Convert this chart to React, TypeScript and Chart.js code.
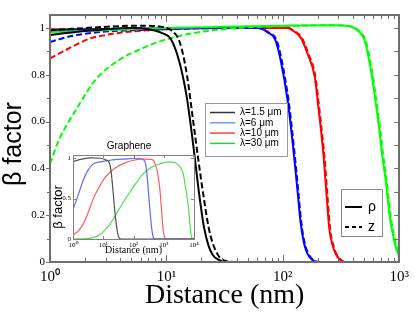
import React, { useEffect, useRef } from 'react';
import { Chart, registerables } from 'chart.js';

Chart.register(...registerables);

const SERIF = '"Liberation Serif", "Times New Roman", serif';
const SANS = '"Liberation Sans", Arial, sans-serif';

// ---------- main chart data (distance in nm, beta factor) ----------
const distBlackRho = [1, 1.8, 3, 5, 7, 9, 11, 13, 15, 17, 19, 21, 23, 25, 28, 32, 40, 1000];
const betaBlackRho = [0.97, 0.985, 0.995, 1.0, 0.995, 0.98, 0.95, 0.85, 0.7, 0.5, 0.3, 0.15, 0.07, 0.03, 0.01, 0, 0, 0];
const distBlackZ = [1, 2, 4, 6, 9, 11, 13, 15, 17, 19, 21, 23, 25, 27, 30, 35, 40, 1000];
const betaBlackZ = [0.99, 1.0, 1.008, 1.01, 1.005, 0.99, 0.94, 0.8, 0.6, 0.42, 0.27, 0.15, 0.08, 0.04, 0.01, 0.002, 0, 0];

const distBlueRho = [1, 3, 10, 30, 61, 75, 86, 96, 110, 122, 134, 142, 152, 163, 180, 200, 1000];
const betaBlueRho = [0.99, 0.995, 0.998, 1.0, 1.0, 0.98, 0.95, 0.86, 0.69, 0.5, 0.3, 0.17, 0.08, 0.035, 0.008, 0, 0];
const distBlueZ = [1, 1.5, 2, 3, 5, 10, 30, 62, 76, 88, 98, 112, 124, 136, 144, 154, 166, 183, 205, 1000];
const betaBlueZ = [0.94, 0.965, 0.975, 0.985, 0.99, 0.995, 1.0, 1.0, 0.98, 0.95, 0.86, 0.69, 0.5, 0.3, 0.17, 0.08, 0.035, 0.008, 0, 0];

const distRedRho = [1, 10, 50, 110, 125, 142, 163, 188, 199, 212, 224, 238, 251, 268, 284, 310, 340, 1000];
const betaRedRho = [0.995, 0.998, 1.0, 1.0, 0.985, 0.96, 0.89, 0.79, 0.69, 0.57, 0.45, 0.28, 0.14, 0.07, 0.035, 0.01, 0, 0];
const distRedZ = [1, 1.3, 1.7, 2.2, 3, 4, 6, 10, 20, 50, 112, 127, 145, 166, 191, 202, 215, 228, 242, 255, 272, 288, 315, 345, 1000];
const betaRedZ = [0.87, 0.9, 0.93, 0.955, 0.97, 0.98, 0.988, 0.995, 1.0, 1.0, 1.0, 0.985, 0.96, 0.89, 0.79, 0.69, 0.57, 0.45, 0.28, 0.14, 0.07, 0.035, 0.01, 0, 0];

const distGreenRho = [1, 3, 10, 30, 100, 243, 350, 412, 460, 502, 566, 624, 680, 716, 760, 792, 836, 880, 925, 970, 1000];
const betaGreenRho = [0.983, 0.99, 1.0, 1.005, 1.01, 1.012, 1.01, 1.0, 0.98, 0.95, 0.83, 0.69, 0.55, 0.45, 0.36, 0.28, 0.18, 0.12, 0.07, 0.04, 0.025];
const distGreenZ = [1, 1.19, 1.45, 1.67, 2.47, 4.12, 5.76, 9.06, 17.7, 41, 100, 243, 350, 420, 470, 512, 577, 636, 693, 730, 775, 808, 853, 898, 944, 990, 1000];
const betaGreenZ = [0.42, 0.52, 0.6, 0.65, 0.78, 0.87, 0.906, 0.945, 0.98, 1.0, 1.008, 1.012, 1.01, 1.0, 0.98, 0.95, 0.83, 0.69, 0.55, 0.45, 0.36, 0.28, 0.18, 0.12, 0.07, 0.04, 0.035];

const mainXTicks = [1, 10, 100, 1000];
const mainXTickLabels = ['10⁰', '10¹', '10²', '10³'];
const mainXMinor = [2, 3, 4, 5, 6, 7, 8, 9, 20, 30, 40, 50, 60, 70, 80, 90, 200, 300, 400, 500, 600, 700, 800, 900];
const mainYTicks = [0, 0.2, 0.4, 0.6, 0.8, 1];
const mainYTickLabels = ['0', '0.2', '0.4', '0.6', '0.8', '1'];
const mainYMinor = [0.1, 0.3, 0.5, 0.7, 0.9];

const legendLabels = ['λ=1.5 μm', 'λ=6 μm', 'λ=10 μm', 'λ=30 μm'];
const legendColors = ['#333333', '#6f96ff', '#ff4040', '#33cc33'];
const polLabels = ['ρ', 'z'];

// ---------- inset (Graphene) data ----------
const insetDistBlack = [1, 2, 4, 8, 12, 16, 18, 21, 24, 27.7, 30, 34, 40, 10000];
const insetBetaBlack = [0.96, 0.99, 1.005, 1.0, 0.98, 0.94, 0.85, 0.6, 0.35, 0.15, 0.07, 0.01, 0, 0];
const insetDistBlue = [1, 1.5, 2.2, 3, 4.7, 10, 17, 50, 150, 230, 270, 310, 360, 410, 450, 500, 10000];
const insetBetaBlue = [0.36, 0.55, 0.73, 0.84, 0.93, 0.96, 0.975, 0.99, 1.0, 0.97, 0.85, 0.6, 0.3, 0.1, 0.02, 0, 0];
const insetDistRed = [1, 1.5, 2.2, 3.2, 4.7, 7, 10, 16, 28, 50, 100, 200, 400, 520, 640, 750, 850, 950, 1050, 1200, 10000];
const insetBetaRed = [0.05, 0.1, 0.19, 0.33, 0.5, 0.63, 0.73, 0.82, 0.89, 0.94, 0.975, 0.99, 0.985, 0.93, 0.8, 0.6, 0.35, 0.12, 0.03, 0, 0];
const insetDistGreen = [1, 3, 5, 8, 12, 17, 30, 59, 110, 210, 400, 750, 1400, 2500, 3500, 4400, 5200, 6500, 7500, 8400, 10000];
const insetBetaGreen = [0, 0.005, 0.02, 0.06, 0.12, 0.19, 0.34, 0.52, 0.67, 0.81, 0.89, 0.93, 0.955, 0.94, 0.89, 0.81, 0.65, 0.41, 0.15, 0.02, 0];

const insetXTicks = [1, 10, 100, 1000, 10000];
const insetXTickLabels = ['10⁰', '10¹', '10²', '10³', '10⁴'];
const insetYTicks = [0, 0.5, 1];
const insetYTickLabels = ['0', '0.5', '1'];

const pts = (xs: number[], ys: number[]) => xs.map((x, i) => ({ x, y: ys[i] }));

// ---------- plugins ----------
const framePlugin = {
  id: 'frameTicks',
  afterDatasetsDraw(chart: any, _args: any, o: any) {
    const { ctx, chartArea: a } = chart;
    const xs = chart.scales.x;
    const ys = chart.scales.y;
    const off = o.tickWidth % 2 === 1 ? 0.5 : 0;
    ctx.save();
    ctx.strokeStyle = o.color;
    ctx.lineWidth = o.tickWidth;
    ctx.beginPath();
    const vx = (vals: number[], top: number, bottom: number) => {
      vals.forEach((v) => {
        const p = Math.round(xs.getPixelForValue(v)) + off;
        if (bottom) { ctx.moveTo(p, a.bottom); ctx.lineTo(p, a.bottom - bottom); }
        if (top) { ctx.moveTo(p, a.top); ctx.lineTo(p, a.top + top); }
      });
    };
    const vy = (vals: number[], left: number, right: number) => {
      vals.forEach((v) => {
        const p = Math.round(ys.getPixelForValue(v)) + off;
        if (left) { ctx.moveTo(a.left, p); ctx.lineTo(a.left + left, p); }
        if (right) { ctx.moveTo(a.right, p); ctx.lineTo(a.right - right, p); }
      });
    };
    vx(o.xMajor, o.top[0], o.bottom[0]);
    vx(o.xMinor, o.top[1], o.bottom[1]);
    vy(o.yMajor, o.left[0], o.right[0]);
    vy(o.yMinor, o.left[1], o.right[1]);
    ctx.stroke();
    ctx.lineWidth = o.frameWidth;
    const fo = o.frameWidth % 2 === 1 ? 0.5 : 0;
    ctx.strokeRect(Math.round(a.left) + fo, Math.round(a.top) + fo, Math.round(a.right) - Math.round(a.left), Math.round(a.bottom) - Math.round(a.top));
    ctx.restore();
  },
};

const textPlugin = {
  id: 'freeTexts',
  afterDraw(chart: any, _args: any, o: any) {
    const { ctx } = chart;
    (o.items || []).forEach((t: any) => {
      ctx.save();
      ctx.translate(t.x, t.y);
      if (t.rot) ctx.rotate(t.rot);
      ctx.font = t.font;
      ctx.fillStyle = t.color || '#000';
      ctx.textAlign = t.align || 'center';
      ctx.textBaseline = 'middle';
      ctx.fillText(t.text, 0, 0);
      ctx.restore();
    });
  },
};

const legendPlugin = {
  id: 'legendBoxes',
  afterDraw(chart: any, _args: any, o: any) {
    const { ctx } = chart;
    (o.boxes || []).forEach((b: any) => {
      ctx.save();
      ctx.fillStyle = '#fff';
      ctx.fillRect(b.x, b.y, b.w, b.h);
      ctx.strokeStyle = b.border;
      ctx.lineWidth = 1;
      ctx.strokeRect(b.x + 0.5, b.y + 0.5, b.w, b.h);
      b.rows.forEach((r: any, i: number) => {
        const y = b.firstY + i * b.step;
        ctx.beginPath();
        ctx.setLineDash(r.dash || []);
        ctx.strokeStyle = r.color;
        ctx.lineWidth = r.width;
        ctx.moveTo(b.lineX0, y);
        ctx.lineTo(b.lineX1, y);
        ctx.stroke();
        ctx.setLineDash([]);
        ctx.fillStyle = '#000';
        ctx.font = b.font;
        ctx.textAlign = 'left';
        ctx.textBaseline = 'middle';
        ctx.fillText(r.text, b.textX, y);
      });
      ctx.restore();
    });
  },
};

const lineDs = (xs: number[], ys: number[], color: string, dashed: boolean, width: number) => ({
  data: pts(xs, ys),
  borderColor: color,
  backgroundColor: color,
  borderWidth: width,
  borderDash: dashed ? [6, 3] : [],
  pointRadius: 0,
  fill: false,
  cubicInterpolationMode: 'monotone' as const,
});

export default function App() {
  const mainRef = useRef<HTMLCanvasElement | null>(null);
  const insetRef = useRef<HTMLCanvasElement | null>(null);

  useEffect(() => {
    if (!mainRef.current || !insetRef.current) return;
    const main = new Chart(mainRef.current, {
      type: 'line',
      data: {
        datasets: [
          lineDs(distBlackRho, betaBlackRho, '#000000', false, 2),
          lineDs(distBlackZ, betaBlackZ, '#000000', true, 2),
          lineDs(distGreenRho, betaGreenRho, '#00ff00', false, 2),
          lineDs(distGreenZ, betaGreenZ, '#00ff00', true, 2),
          lineDs(distBlueRho, betaBlueRho, '#0000ff', false, 2),
          lineDs(distBlueZ, betaBlueZ, '#0000ff', true, 2),
          lineDs(distRedRho, betaRedRho, '#ff0000', false, 2),
          lineDs(distRedZ, betaRedZ, '#ff0000', true, 2),
        ] as any,
      },
      options: {
        animation: false,
        responsive: false,
        maintainAspectRatio: false,
        layout: { padding: { left: 0, right: 13, top: 15, bottom: 0 } },
        plugins: {
          legend: { display: false },
          tooltip: { enabled: false },
          frameTicks: {
            color: '#6e6e6e', tickWidth: 1, frameWidth: 2,
            xMajor: mainXTicks, xMinor: mainXMinor, yMajor: mainYTicks, yMinor: mainYMinor,
            top: [7, 4], bottom: [7, 4], left: [-4, -3], right: [5, 5],
          },
          freeTexts: {
            items: [
              { text: 'β factor', x: 14, y: 144, rot: -Math.PI / 2, font: `25px ${SANS}` },
            ],
          },
          legendBoxes: {
            boxes: [
              {
                x: 205, y: 103, w: 82, h: 53, border: '#9a9a9a', firstY: 112.5, step: 10.3,
                lineX0: 210, lineX1: 235, textX: 240, font: `10px ${SANS}`,
                rows: legendLabels.map((t, i) => ({ text: t, color: legendColors[i], width: 1.5 })),
              },
              {
                x: 341, y: 189, w: 41, h: 47, border: '#8a8a8a', firstY: 207, step: 20,
                lineX0: 345, lineX1: 362, textX: 368, font: `14px ${SANS}`,
                rows: polLabels.map((t, i) => ({ text: t, color: '#000', width: 2, dash: i === 1 ? [4, 3] : [] })),
              },
            ],
          },
        } as any,
        scales: {
          x: {
            type: 'logarithmic',
            min: 1,
            max: 1000,
            grid: { display: false, drawTicks: false },
            border: { display: false },
            afterBuildTicks: (s: any) => { s.ticks = mainXTicks.map((v) => ({ value: v })); },
            afterFit: (s: any) => { s.height = 50; },
            ticks: {
              autoSkip: false, maxRotation: 0, padding: 6, color: '#000',
              font: { family: SERIF, size: 15 },
              callback: (_v: any, i: number) => mainXTickLabels[i],
            },
            title: {
              display: true, text: 'Distance (nm)', color: '#000',
              font: { family: SERIF, size: 28, lineHeight: 1 }, padding: { top: 0, bottom: 2 },
            },
          },
          y: {
            type: 'linear',
            min: 0,
            max: 1.0556,
            grid: { display: false, drawTicks: false },
            border: { display: false },
            afterBuildTicks: (s: any) => { s.ticks = mainYTicks.map((v) => ({ value: v })); },
            afterFit: (s: any) => { s.width = 50; },
            ticks: {
              padding: 5, color: '#000',
              font: { family: SERIF, size: 11 },
              callback: (_v: any, i: number) => mainYTickLabels[i],
            },
          },
        } as any,
      },
      plugins: [framePlugin, textPlugin, legendPlugin],
    });

    const inset = new Chart(insetRef.current, {
      type: 'line',
      data: {
        datasets: [
          lineDs(insetDistBlack, insetBetaBlack, '#505050', false, 1.2),
          lineDs(insetDistBlue, insetBetaBlue, '#5b6cff', false, 1.2),
          lineDs(insetDistRed, insetBetaRed, '#ff5c5c', false, 1.2),
          lineDs(insetDistGreen, insetBetaGreen, '#4ee04e', false, 1.2),
        ] as any,
      },
      options: {
        animation: false,
        responsive: false,
        maintainAspectRatio: false,
        layout: { padding: { left: 0, right: 16, top: 19, bottom: 0 } },
        plugins: {
          legend: { display: false },
          tooltip: { enabled: false },
          frameTicks: {
            color: '#808080', tickWidth: 1, frameWidth: 1,
            xMajor: insetXTicks, xMinor: [], yMajor: insetYTicks, yMinor: [],
            top: [3, 0], bottom: [3, 0], left: [3, 0], right: [3, 0],
          },
          freeTexts: {
            items: [
              { text: 'Graphene', x: 89, y: 10, font: `10px ${SANS}` },
              { text: 'β factor', x: 18.5, y: 71, rot: -Math.PI / 2, font: `13px ${SANS}` },
            ],
          },
        } as any,
        scales: {
          x: {
            type: 'logarithmic',
            min: 1,
            max: 10000,
            grid: { display: false, drawTicks: false },
            border: { display: false },
            afterBuildTicks: (s: any) => { s.ticks = insetXTicks.map((v) => ({ value: v })); },
            afterFit: (s: any) => { s.height = 23; },
            ticks: {
              autoSkip: false, maxRotation: 0, padding: 2, color: '#000',
              font: { family: SERIF, size: 7 },
              callback: (_v: any, i: number) => insetXTickLabels[i],
            },
            title: {
              display: true, text: 'Distance (nm)', color: '#000',
              font: { family: SERIF, size: 10, lineHeight: 1 }, padding: { top: 0, bottom: 7 },
            },
          },
          y: {
            type: 'linear',
            min: 0,
            max: 1.04,
            grid: { display: false, drawTicks: false },
            border: { display: false },
            afterBuildTicks: (s: any) => { s.ticks = insetYTicks.map((v) => ({ value: v })); },
            afterFit: (s: any) => { s.width = 33; },
            ticks: {
              padding: 2, color: '#000',
              font: { family: SERIF, size: 7 },
              callback: (_v: any, i: number) => insetYTickLabels[i],
            },
          },
        } as any,
      },
      plugins: [framePlugin, textPlugin],
    });

    return () => {
      main.destroy();
      inset.destroy();
    };
  }, []);

  return (
    <div style={{ position: 'fixed', left: 0, top: 0, width: 415, height: 312, background: '#fff' }}>
      <canvas ref={mainRef} width={415} height={312} style={{ position: 'absolute', left: 0, top: 0, width: 415, height: 312 }} />
      <canvas ref={insetRef} width={170} height={126} style={{ position: 'absolute', left: 40, top: 136, width: 170, height: 126 }} />
    </div>
  );
}
